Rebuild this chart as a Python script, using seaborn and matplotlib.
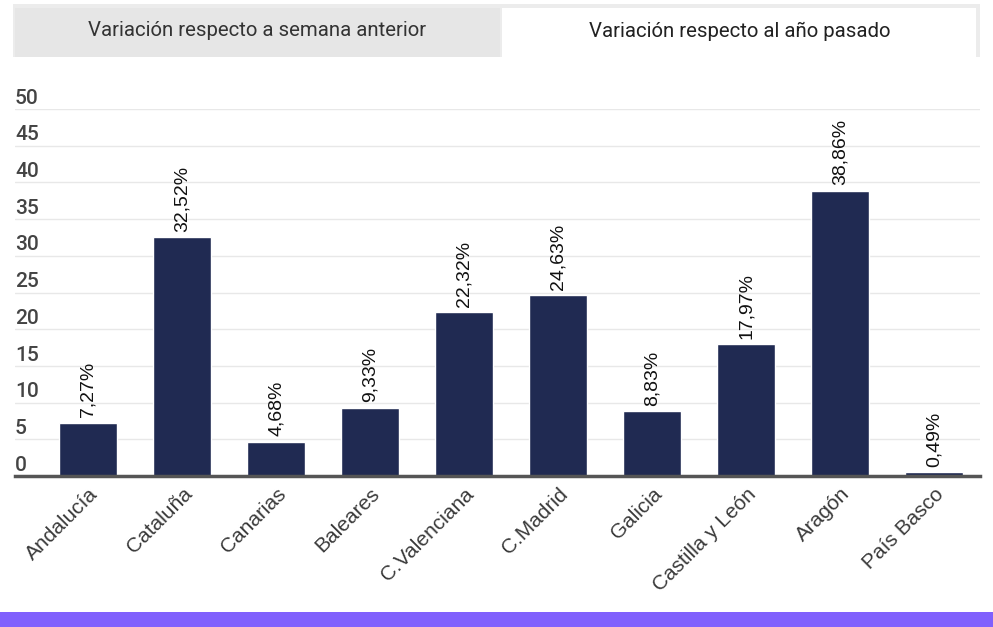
import matplotlib
matplotlib.use("Agg")
import matplotlib.pyplot as plt
import matplotlib.patches as mpatches
import seaborn as sns
import pandas as pd

# data
Regiones = ['Andalucía', 'Cataluña', 'Canarias', 'Baleares', 'C.Valenciana',
            'C.Madrid', 'Galicia', 'Castilla y León', 'Aragón', 'País Basco']
Variacion = [7.27, 32.52, 4.68, 9.33, 22.32, 24.63, 8.83, 17.97, 38.86, 0.49]
YTicks = [0, 5, 10, 15, 20, 25, 30, 35, 40, 45, 50]
Tabs = ['Variación respecto a semana anterior', 'Variación respecto al año pasado']

df = pd.DataFrame({'Region': Regiones, 'Valor': Variacion})

sns.set_style('white')
plt.rcParams['font.family'] = ['Liberation Sans', 'DejaVu Sans']
TabFont = ['Roboto', 'DejaVu Sans']

W, H = 993, 627
fig = plt.figure(figsize=(W / 100, H / 100), dpi=100)
fig.patch.set_facecolor('white')

# plot area in pixel coords
left, right, bottom, top = 15, 980, 476, 109
ax = fig.add_axes([left / W, 1 - bottom / H, (right - left) / W, (bottom - top) / H])

sns.barplot(data=df, x='Region', y='Valor', color='#202a52', width=0.62,
            saturation=1, ax=ax, zorder=3)

ax.set_ylim(0, 50)
ax.set_xlim(-0.78, 9.49)
ax.set_yticks(YTicks)
ax.set_yticklabels([])
ax.tick_params(axis='y', length=0)
ax.grid(axis='y', color='#e8e8e8', linewidth=1, zorder=0)
ax.set_xlabel('')
ax.set_ylabel('')
for s in ['top', 'right', 'left']:
    ax.spines[s].set_visible(False)
ax.spines['bottom'].set_color('#555555')
ax.spines['bottom'].set_linewidth(2.5)
ax.spines['bottom'].set_zorder(5)

# y labels sit above their gridlines
for v in YTicks:
    ax.annotate(str(v), xy=(0, v), xycoords=ax.get_yaxis_transform(),
                xytext=(0, 1), textcoords='offset points', ha='left', va='bottom',
                fontsize=15, color='#444444', fontweight='medium', family=TabFont)

# x tick labels, rotated
ax.tick_params(axis='x', length=0, pad=6)
ax.set_xticks(range(len(Regiones)))
ax.set_xticklabels(Regiones, rotation=45, ha='right', rotation_mode='anchor',
                   fontsize=15, color='#3a3a3a')

# value labels
for i, v in enumerate(Variacion):
    lab = f'{v:.2f}'.replace('.', ',') + '%'
    ax.annotate(lab, xy=(i, v), xytext=(0, 4), textcoords='offset points',
                rotation=90, ha='center', va='bottom', fontsize=14,
                color='#111111', annotation_clip=False)

# tabs on top
def px_rect(x0, y0, x1, y1, **kw):
    fig.patches.append(mpatches.Rectangle((x0 / W, 1 - y1 / H), (x1 - x0) / W, (y1 - y0) / H,
                                          transform=fig.transFigure, **kw))

px_rect(13, 4, 980, 57, facecolor='#ececec', edgecolor='none')
px_rect(15, 8, 500, 57, facecolor='#e6e6e6', edgecolor='none')
px_rect(502, 8, 976, 57, facecolor='white', edgecolor='none')
fig.text(257 / W, 1 - 31 / H, Tabs[0], ha='center', va='center', fontsize=14.7,
         color='#333333', family=TabFont)
fig.text(740 / W, 1 - 31 / H, Tabs[1], ha='center', va='center', fontsize=14.7,
         color='#222222', family=TabFont)

# purple band at bottom
px_rect(0, 612, W, H, facecolor='#8060fd', edgecolor='none')

fig.savefig('out.png', dpi=100)
